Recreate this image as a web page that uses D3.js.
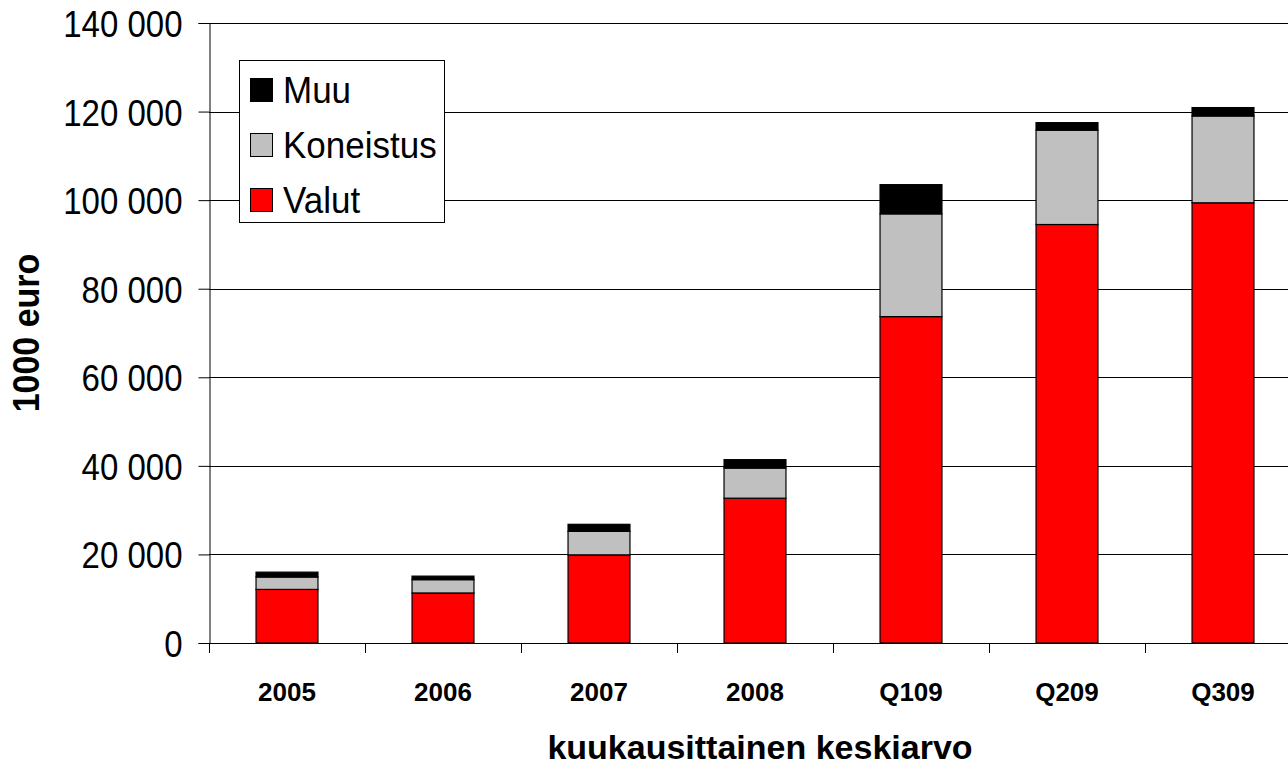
<!DOCTYPE html>
<html><head><meta charset="utf-8">
<script src="https://cdn.jsdelivr.net/npm/d3@7"></script>
<style>html,body{margin:0;padding:0;background:#fff;overflow:hidden}</style>
</head><body>
<svg id="c" width="1288" height="765"></svg>
<script>
const categories = ["2005","2006","2007","2008","Q109","Q209","Q309"];
const valut     = [12100, 11300, 19900, 32700, 73700, 94500, 99400];
const koneistus = [ 2800,  3000,  5300,  6800, 23200, 21300, 19600];
const muu       = [ 1100,   800,  1600,  1900,  6600,  1700,  1900];
const seriesNames = ["Valut","Koneistus","Muu"];
const seriesColors = ["#FF0000","#C0C0C0","#000000"];
const yTicks = [0,20000,40000,60000,80000,100000,120000,140000];
const yTitle = "1000 euro";
const xTitle = "kuukausittainen keskiarvo";

const svg = d3.select("#c");
const L = 209, T = 23, B = 643, step = 156;
const R = L + step*categories.length;
const font = "'Liberation Sans', Arial, sans-serif";

const x = d3.scaleBand().domain(categories).range([L, R]).paddingInner(0.603).paddingOuter(0.3015);
const y = d3.scaleLinear().domain([0,140000]).range([B, T]);

const rows = categories.map((c,i)=>({cat:c, Valut:valut[i], Koneistus:koneistus[i], Muu:muu[i]}));
const stack = d3.stack().keys(seriesNames)(rows);

// gridlines
svg.append("g").selectAll("line").data(yTicks.filter(d=>d>0)).join("line")
  .attr("x1", L).attr("x2", 1288).attr("y1", d=>Math.round(y(d))+0.5).attr("y2", d=>Math.round(y(d))+0.5)
  .attr("stroke","#000").attr("stroke-width",1);

// bars
stack.forEach((s,si)=>{
  svg.append("g").selectAll("rect").data(s).join("rect")
    .attr("x", d=>x(d.data.cat)).attr("width", x.bandwidth())
    .attr("y", d=>y(d[1])).attr("height", d=>y(d[0])-y(d[1]))
    .attr("fill", seriesColors[si]).attr("stroke","#000").attr("stroke-width",1.2);
});

// y axis
const yAxis = d3.axisLeft(y).tickValues(yTicks).tickSize(11).tickPadding(16)
  .tickFormat(d=>d3.format(",")(d).replace(/,/g," "));
const gy = svg.append("g").attr("transform",`translate(${L+0.5},0)`).call(yAxis);
gy.select(".domain").attr("stroke","#000");
gy.selectAll(".tick line").attr("stroke","#000");
gy.selectAll("text").attr("font-family",font).attr("font-size",33).attr("fill","#000")
  .attr("dy","0.36em").attr("transform","scale(1,1.13)");

// x axis
svg.append("line").attr("x1",L).attr("x2",1288).attr("y1",B+0.5).attr("y2",B+0.5).attr("stroke","#000");
const bounds = d3.range(categories.length+1).map(i=>L+i*step);
svg.append("g").selectAll("line").data(bounds).join("line")
  .attr("x1",d=>d+0.5).attr("x2",d=>d+0.5).attr("y1",B).attr("y2",B+10).attr("stroke","#000");
svg.append("g").selectAll("text").data(categories).join("text")
  .attr("x", d=>x(d)+x.bandwidth()/2).attr("y", 701)
  .attr("text-anchor","middle").attr("font-family",font).attr("font-weight","bold")
  .attr("font-size",26).text(d=>d);

// titles
svg.append("text").attr("x",760).attr("y",759).attr("text-anchor","middle")
  .attr("font-family",font).attr("font-weight","bold").attr("font-size",34).text(xTitle);
svg.append("text").attr("transform","translate(39,333) rotate(-90) scale(1,1.07)").attr("text-anchor","middle")
  .attr("font-family",font).attr("font-weight","bold").attr("font-size",34).text(yTitle);

// legend
const lg = svg.append("g");
lg.append("rect").attr("x",239.5).attr("y",60.5).attr("width",205).attr("height",162)
  .attr("fill","#fff").attr("stroke","#000");
const legItems = [2,1,0];
legItems.forEach((si,k)=>{
  const cy = 90 + k*55;
  lg.append("rect").attr("x",250.5).attr("y",cy-11.5).attr("width",22).attr("height",23)
    .attr("fill",seriesColors[si]).attr("stroke","#000");
  lg.append("text").attr("transform",`translate(283,${cy+13}) scale(1,1.08)`)
    .attr("font-family",font).attr("font-size",35)
    .text(seriesNames[si]);
});
</script>
</body></html>
